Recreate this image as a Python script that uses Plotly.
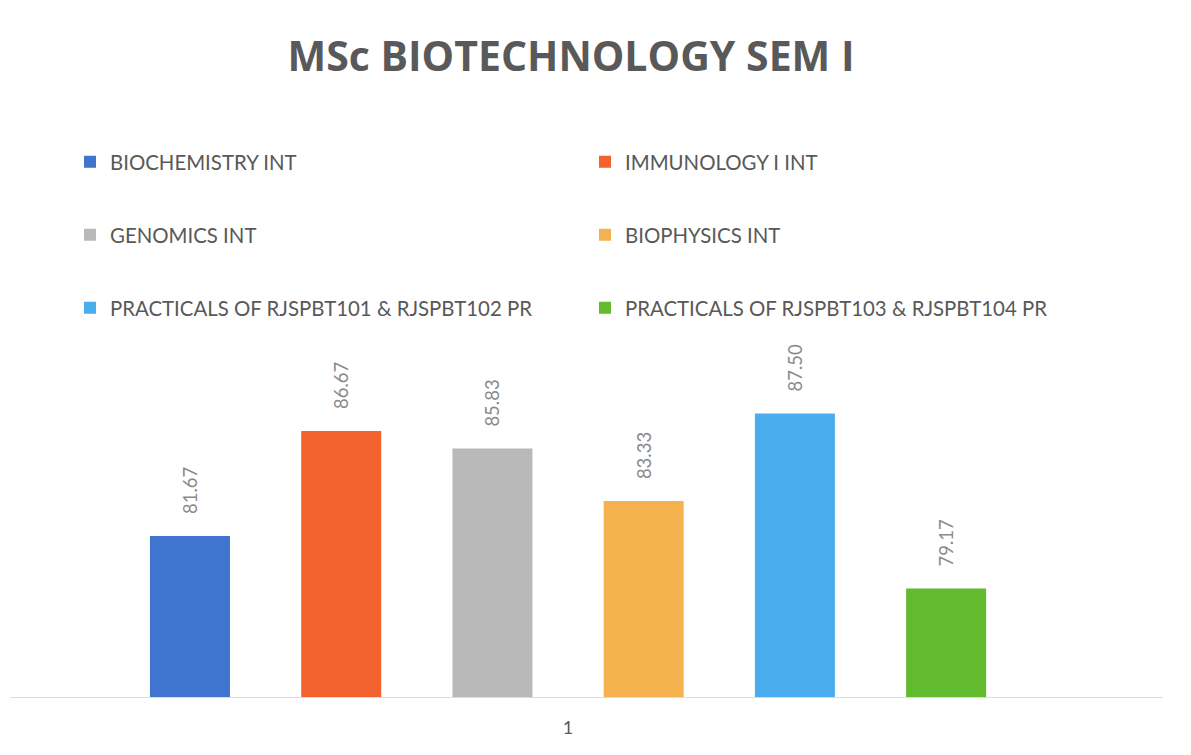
import plotly.graph_objects as go

category = ["1"]
series_names = [
    "BIOCHEMISTRY INT",
    "IMMUNOLOGY I INT",
    "GENOMICS INT",
    "BIOPHYSICS INT",
    "PRACTICALS OF RJSPBT101 & RJSPBT102 PR",
    "PRACTICALS OF RJSPBT103 & RJSPBT104 PR",
]
series_values = [81.67, 86.67, 85.83, 83.33, 87.50, 79.17]
series_colors = ["#3f74cf", "#f2622e", "#b9b9b9", "#f4b24f", "#4aaeee", "#62bb2e"]
legend_ids = ["legend", "legend", "legend2", "legend2", "legend3", "legend3"]

FONT = "Lato"
GRAY = "#595959"

fig = go.Figure()
for name, val, col, lg in zip(series_names, series_values, series_colors, legend_ids):
    fig.add_trace(go.Bar(
        x=category, y=[val], name=name, marker_color=col, marker_line_width=0,
        texttemplate="\u00a0\u00a0\u00a0\u00a0%{y:.2f}", textposition="outside", textangle=-90,
        textfont=dict(family=FONT, size=18.5, color="#8a8a8a"),
        constraintext="none", cliponaxis=False, legend=lg,
    ))

# page has an 8px body offset; layout coordinates below are in figure pixels
W, H = 1191, 755
ml, mr, mt, mb = 2, 36, 353, 66
ph = H - mt - mb

def ypaper(py):
    return (H - mb - py) / ph

def xpaper(px):
    return (px - ml) / (W - ml - mr)

leg_common = dict(orientation="h", entrywidthmode="pixels", entrywidth=470,
                  font=dict(family=FONT, size=20.4, color=GRAY),
                  bgcolor="rgba(0,0,0,0)", xanchor="left", yanchor="middle",
                  traceorder="normal", itemclick=False)

fig.update_layout(
    width=W, height=H,
    margin=dict(l=ml, r=mr, t=mt, b=mb),
    paper_bgcolor="white", plot_bgcolor="white",
    title=dict(text="<b>MSc BIOTECHNOLOGY SEM I</b>", x=563 / W, xanchor="center",
               y=1 - 49 / H, yanchor="middle",
               font=dict(family="Open Sans", size=41, color=GRAY)),
    barmode="group", bargap=0.213, bargroupgap=0.471,
    legend=dict(x=xpaper(62), y=ypaper(154), **leg_common),
    legend2=dict(x=xpaper(62), y=ypaper(227), **leg_common),
    legend3=dict(x=xpaper(62), y=ypaper(300), **leg_common),
    xaxis=dict(type="category", range=[-0.484, 0.516], showline=True, linecolor="#dcdcdc",
               linewidth=1, ticks="", showgrid=False, ticklabelstandoff=14,
               tickfont=dict(family=FONT, size=18, color=GRAY)),
    yaxis=dict(range=[74, 90], visible=False, showgrid=False, zeroline=False),
    showlegend=True,
)

fig.write_html("out.html")
